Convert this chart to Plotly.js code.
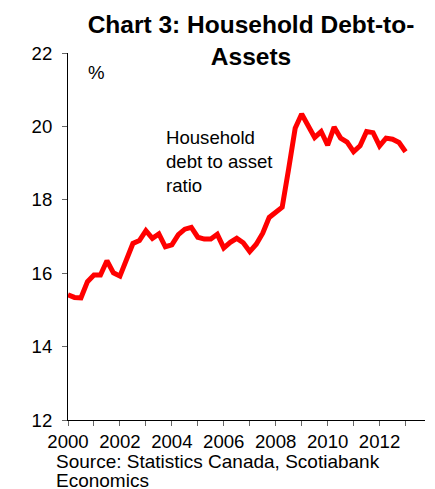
<!DOCTYPE html>
<html>
<head>
<meta charset="utf-8">
<script src="https://cdn.plot.ly/plotly-3.0.1.min.js"></script>
<style>
html,body{margin:0;padding:0;background:#fff;}
#chart{width:435px;height:489px;}
</style>
</head>
<body>
<div id="chart"></div>
<script>
// Quarterly observations (decimal year of quarter start)
const quarters = [
  2000.00, 2000.25, 2000.50, 2000.75,
  2001.00, 2001.25, 2001.50, 2001.75,
  2002.00, 2002.25, 2002.50, 2002.75,
  2003.00, 2003.25, 2003.50, 2003.75,
  2004.00, 2004.25, 2004.50, 2004.75,
  2005.00, 2005.25, 2005.50, 2005.75,
  2006.00, 2006.25, 2006.50, 2006.75,
  2007.00, 2007.25, 2007.50, 2007.75,
  2008.00, 2008.25, 2008.50, 2008.75,
  2009.00, 2009.25, 2009.50, 2009.75,
  2010.00, 2010.25, 2010.50, 2010.75,
  2011.00, 2011.25, 2011.50, 2011.75,
  2012.00, 2012.25, 2012.50, 2012.75,
  2013.00
];
// Household debt to asset ratio, %
const debtToAssets = [
  15.41, 15.34, 15.33, 15.77,
  15.95, 15.95, 16.34, 16.01,
  15.92, 16.41, 16.81, 16.89,
  17.16, 16.95, 17.07, 16.72,
  16.77, 17.05, 17.20, 17.25,
  16.98, 16.93, 16.93, 17.06,
  16.69, 16.84, 16.95, 16.83,
  16.59, 16.79, 17.09, 17.52,
  17.68, 17.80, 18.85, 19.95,
  20.34, 20.04, 19.70, 19.86,
  19.49, 19.98, 19.68, 19.57,
  19.31, 19.47, 19.86, 19.83,
  19.47, 19.68, 19.65, 19.56,
  19.31
];
const xTickVals = [2000, 2002, 2004, 2006, 2008, 2010, 2012];
const xTickText = ['2000', '2002', '2004', '2006', '2008', '2010', '2012'];
const yTickVals = [12, 14, 16, 18, 20, 22];

const FONT = '"Liberation Sans", Arial, Helvetica, sans-serif';
const FS = 18.6;

const trace = {
  x: quarters,
  y: debtToAssets,
  type: 'scatter',
  mode: 'lines',
  line: {color: '#ff0000', width: 5},
  hoverinfo: 'skip'
};

const layout = {
  width: 435,
  height: 489,
  margin: {l: 68, r: 10, t: 53, b: 69},
  paper_bgcolor: '#ffffff',
  plot_bgcolor: '#ffffff',
  showlegend: false,
  font: {family: FONT, color: '#000', size: FS},
  title: {
    text: '<b>Chart 3: Household Debt-to-<br>Assets</b>',
    font: {family: FONT, size: 24.5, color: '#000'},
    x: 251 / 435,
    xanchor: 'center',
    xref: 'container',
    y: 0.932,
    yanchor: 'top'
  },
  xaxis: {
    type: 'linear',
    range: [2000, 2013.75],
    tickvals: xTickVals,
    ticktext: xTickText,
    ticks: 'outside',
    ticklen: 5,
    tickcolor: '#666',
    tickfont: {family: FONT, size: FS, color: '#000'},
    showline: true,
    linecolor: '#000',
    linewidth: 1,
    showgrid: false,
    zeroline: false,
    minor: {ticks: 'outside', dtick: 1, tick0: 2000, ticklen: 5, tickcolor: '#666', showgrid: false}
  },
  yaxis: {
    range: [12, 22],
    tickvals: yTickVals,
    ticks: 'outside',
    ticklen: 5,
    tickcolor: '#666',
    tickfont: {family: FONT, size: FS, color: '#000'},
    showline: true,
    linecolor: '#000',
    linewidth: 1,
    showgrid: false,
    zeroline: false,
    ticklabelstandoff: 6
  },
  annotations: [
    {
      text: '%',
      xref: 'paper', yref: 'paper',
      x: 0.05, y: 0.981,
      xanchor: 'left', yanchor: 'top',
      showarrow: false,
      font: {family: FONT, size: FS, color: '#000'}
    },
    {
      text: 'Household<br>debt to asset<br>ratio',
      xref: 'paper', yref: 'paper',
      x: (164 - 68) / 357, y: (420 - 125) / 367,
      xanchor: 'left', yanchor: 'top',
      align: 'left',
      showarrow: false,
      font: {family: FONT, size: FS, color: '#000'}
    },
    {
      text: 'Source: Statistics Canada, Scotiabank',
      xref: 'paper', yref: 'paper',
      x: (54 - 68) / 357, y: (420 - 461) / 367,
      xanchor: 'left', yanchor: 'middle',
      align: 'left',
      showarrow: false,
      font: {family: FONT, size: 19, color: '#000'}
    },
    {
      text: 'Economics',
      xref: 'paper', yref: 'paper',
      x: (54 - 68) / 357, y: (420 - 480.5) / 367,
      xanchor: 'left', yanchor: 'middle',
      align: 'left',
      showarrow: false,
      font: {family: FONT, size: 19, color: '#000'}
    }
  ]
};

Plotly.newPlot('chart', [trace], layout, {displayModeBar: false, staticPlot: true});
</script>
</body>
</html>
